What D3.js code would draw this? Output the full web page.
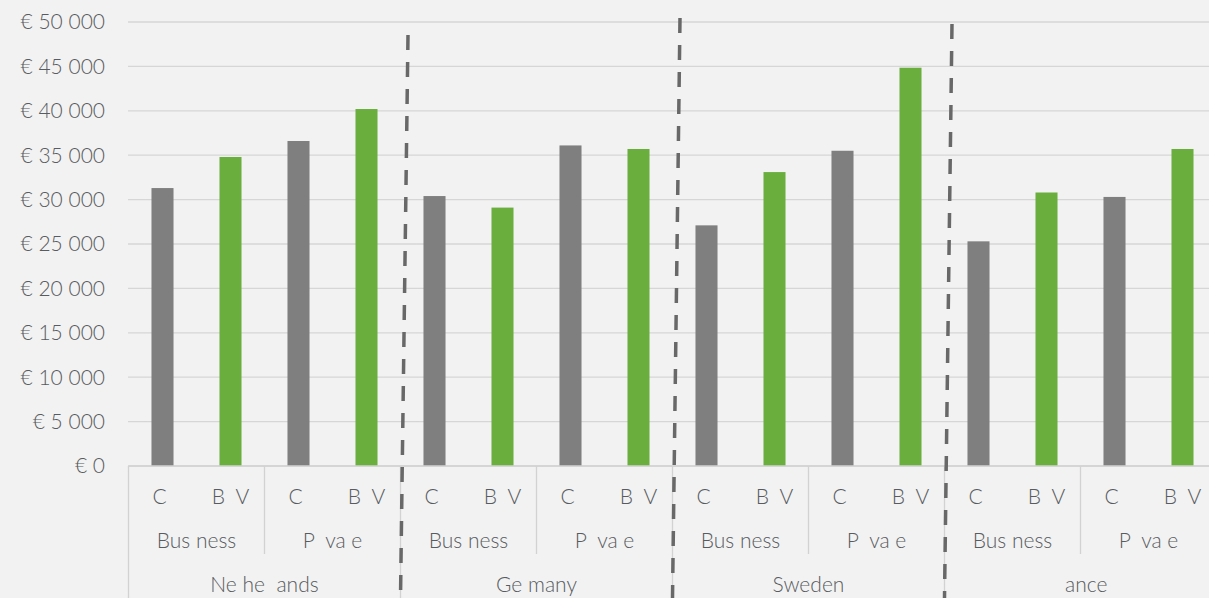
<!DOCTYPE html>
<html>
<head>
<meta charset="utf-8">
<script src="https://d3js.org/d3.v7.min.js"></script>
<style>
html, body { margin: 0; padding: 0; background: #f2f2f2; }
svg { display: block; }
text { font-family: Lato, "Open Sans", sans-serif; font-weight: 300; fill: #585b60; font-size: 21px; white-space: pre; }
.grid line { stroke: #d6d6d6; stroke-width: 1.3; }
.sep { stroke: #d2d2d2; stroke-width: 1.3; }
.dash { stroke: #686868; stroke-width: 3.5; stroke-dasharray: 15,12; }
</style>
</head>
<body>
<svg width="1209" height="598"></svg>
<script>
// countries, segments and powertrains (letters missing as in the source picture)
var countries = ["Ne he  ands", "Ge many", "Sweden", "  ance"];
var segments = ["Bus ness", "P  va e"];
var types = ["C ", "B\u2002V"];

// values per country: [Business C, Business BEV, Private C, Private BEV]
var netherlands = [31300, 34800, 36600, 40200];
var germany     = [30400, 29100, 36100, 35700];
var sweden      = [27100, 33100, 35500, 44850];
var france      = [25300, 30800, 30300, 35700];
var values = [netherlands, germany, sweden, france];

var yTicks = [0, 5000, 10000, 15000, 20000, 25000, 30000, 35000, 40000, 45000, 50000];

var svg = d3.select("svg"),
    width = +svg.attr("width"),
    height = +svg.attr("height");

var y = d3.scaleLinear().domain([0, 50000]).range([466, 22]);

var xGroup = d3.scaleBand().domain(countries).range([128.5, 1216.5]);
var xSeg = d3.scaleBand().domain(segments).range([0, xGroup.bandwidth()]);
var xType = d3.scaleBand().domain(types).range([0, xSeg.bandwidth()])
    .paddingInner(0.676).paddingOuter(0.338);

var colors = ["#7f7f7f", "#6aaf3e"];

// gridlines
svg.append("g").attr("class", "grid")
  .selectAll("line").data(yTicks).enter().append("line")
    .attr("x1", 128).attr("x2", width)
    .attr("y1", function(d) { return y(d); })
    .attr("y2", function(d) { return y(d); });

// y labels
var fmt = d3.format(",");
svg.append("g").selectAll("text").data(yTicks).enter().append("text")
    .attr("x", 105)
    .attr("y", function(d) { return y(d); })
    .attr("dy", "0.35em")
    .attr("text-anchor", "end")
    .text(function(d) { return "€ " + fmt(d).replace(/,/g, " "); });

// flatten into bars
var bars = [];
countries.forEach(function(c, ci) {
  segments.forEach(function(s, si) {
    types.forEach(function(t, ti) {
      bars.push({c: c, s: s, t: t, ti: ti, v: values[ci][si * 2 + ti]});
    });
  });
});

svg.append("g").selectAll("rect").data(bars).enter().append("rect")
    .attr("x", function(d) { return xGroup(d.c) + xSeg(d.s) + xType(d.t); })
    .attr("width", xType.bandwidth())
    .attr("y", function(d) { return y(d.v); })
    .attr("height", function(d) { return y(0) - y(d.v); })
    .attr("fill", function(d) { return colors[d.ti]; });

// category axis
var ax = svg.append("g");
ax.append("line").attr("class", "sep")
    .attr("x1", xGroup.range()[0]).attr("x2", width)
    .attr("y1", y(0)).attr("y2", y(0));

countries.forEach(function(c) {
  var gx = xGroup(c);
  ax.append("line").attr("class", "sep")
      .attr("x1", gx).attr("x2", gx).attr("y1", y(0)).attr("y2", height);
  ax.append("text")
      .attr("x", gx + xGroup.bandwidth() / 2).attr("y", 585).attr("dy", "0.35em")
      .attr("text-anchor", "middle").text(c);
  segments.forEach(function(s, si) {
    var sx = gx + xSeg(s);
    if (si > 0) {
      ax.append("line").attr("class", "sep")
          .attr("x1", sx).attr("x2", sx).attr("y1", y(0)).attr("y2", 554);
    }
    ax.append("text")
        .attr("x", sx + xSeg.bandwidth() / 2).attr("y", 541).attr("dy", "0.35em")
        .attr("text-anchor", "middle").text(s);
    types.forEach(function(t) {
      ax.append("text")
          .attr("x", sx + xType(t) + xType.bandwidth() / 2).attr("y", 497).attr("dy", "0.35em")
          .attr("text-anchor", "middle").text(t);
    });
  });
});

// hand-drawn dashed separators between countries (slightly slanted)
var sepTops = [35, 18, 24];
countries.slice(1).forEach(function(c, i) {
  var bx = xGroup(c);
  svg.append("line").attr("class", "dash")
      .attr("x1", bx + 7.5).attr("y1", sepTops[i])
      .attr("x2", bx).attr("y2", height);
});
</script>
</body>
</html>
